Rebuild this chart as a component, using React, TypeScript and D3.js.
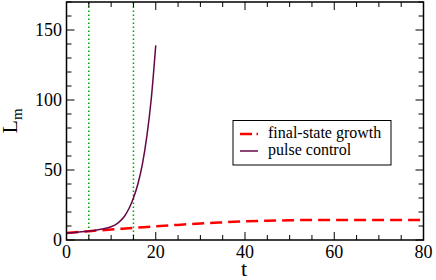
import React from "react";
import * as d3 from "d3";

// final-state growth (red dashed)
const growthT = [0, 5, 10, 15, 20, 25, 30, 35, 40, 45, 50, 55, 60, 70, 80];
const growthL = [5, 6.3, 7.5, 8.6, 9.8, 10.8, 11.8, 12.6, 13.3, 13.8, 14.1, 14.3, 14.3, 14.3, 14.3];

// pulse control (maroon)
const pulseT = [0, 2, 4, 6, 8, 10, 11, 12, 13, 14, 15, 16, 17, 18, 19, 20];
const pulseL = [5, 5.4, 6, 6.7, 7.8, 9.5, 11, 13.5, 17, 22.5, 30, 40, 54, 74, 101, 139];

// pulse times (green dotted)
const pulseMarks = [5, 15];

const xTicks = [0, 20, 40, 60, 80];
const yTicks = [0, 50, 100, 150];
const legendLabels = ["final-state growth", "pulse control"];

const W = 436;
const H = 280;
const left = 66.5;
const right = 423.5;
const top = 2;
const bottom = 240;

const font = '"Liberation Serif", "Times New Roman", "DejaVu Serif", serif';

const App = () => {
  const x = d3.scaleLinear().domain([0, 80]).range([left, right]);
  const y = d3.scaleLinear().domain([0, 170]).range([bottom, top]);

  const line = d3
    .line<[number, number]>()
    .x(d => x(d[0]))
    .y(d => y(d[1]))
    .curve(d3.curveMonotoneX);

  const growth = line(growthT.map((t, i) => [t, growthL[i]] as [number, number]));
  const pulse = line(pulseT.map((t, i) => [t, pulseL[i]] as [number, number]));

  const xMinor = d3.range(0, 81, 5);
  const yMinor = d3.range(0, 171, 10);
  const ts = { fontFamily: font };

  return (
    <svg
      width={W}
      height={H}
      style={{ position: "absolute", left: 0, top: 0, background: "white", fontFamily: font }}
    >
      {pulseMarks.map(t => (
        <line
          key={"pm" + t}
          x1={x(t)}
          x2={x(t)}
          y1={y(0)}
          y2={y(170)}
          stroke="#00a000"
          strokeWidth={1.5}
          strokeDasharray="1.5 2.5"
        />
      ))}

      <path d={growth || ""} fill="none" stroke="#ff0000" strokeWidth={2.5} strokeDasharray="12 6" />
      <path d={pulse || ""} fill="none" stroke="#670748" strokeWidth={1.5} />

      {/* ticks, inward on all four sides */}
      {xMinor.map(t => {
        const len = t % 20 === 0 ? 8 : 5;
        return (
          <g key={"xt" + t} stroke="#000" strokeWidth={1}>
            <line x1={x(t)} x2={x(t)} y1={bottom} y2={bottom - len} />
            <line x1={x(t)} x2={x(t)} y1={top} y2={top + len} />
          </g>
        );
      })}
      {yMinor.map(v => {
        const len = v % 50 === 0 ? 8 : 5;
        return (
          <g key={"yt" + v} stroke="#000" strokeWidth={1}>
            <line x1={left} x2={left + len} y1={y(v)} y2={y(v)} />
            <line x1={right} x2={right - len} y1={y(v)} y2={y(v)} />
          </g>
        );
      })}

      <rect
        x={left}
        y={top}
        width={right - left}
        height={bottom - top}
        fill="none"
        stroke="#000"
        strokeWidth={1.5}
      />

      {xTicks.map(t => (
        <text key={"xl" + t} x={x(t)} y={258} fontSize={18} textAnchor="middle" style={ts}>
          {t}
        </text>
      ))}
      {yTicks.map(v => (
        <text key={"yl" + v} x={62} y={y(v)} dy="0.34em" fontSize={18} textAnchor="end" style={ts}>
          {v}
        </text>
      ))}

      <text x={244} y={276} fontSize={22} textAnchor="middle" style={ts}>
        t
      </text>
      <text transform="translate(17,121) rotate(-90)" fontSize={22} textAnchor="middle" style={ts}>
        L
        <tspan fontSize={15} dy={5}>
          m
        </tspan>
      </text>

      {/* legend */}
      <rect x={233} y={120.5} width={158} height={44.5} fill="white" stroke="#000" strokeWidth={1} />
      <line x1={240} x2={258} y1={134} y2={134} stroke="#ff0000" strokeWidth={2.5} strokeDasharray="12 4.5" />
      <line x1={240} x2={258} y1={151} y2={151} stroke="#670748" strokeWidth={1.5} />
      {legendLabels.map((s, i) => (
        <text key={s} x={268} y={137.5 + i * 17} fontSize={16} style={ts}>
          {s}
        </text>
      ))}
    </svg>
  );
};

export default App;
